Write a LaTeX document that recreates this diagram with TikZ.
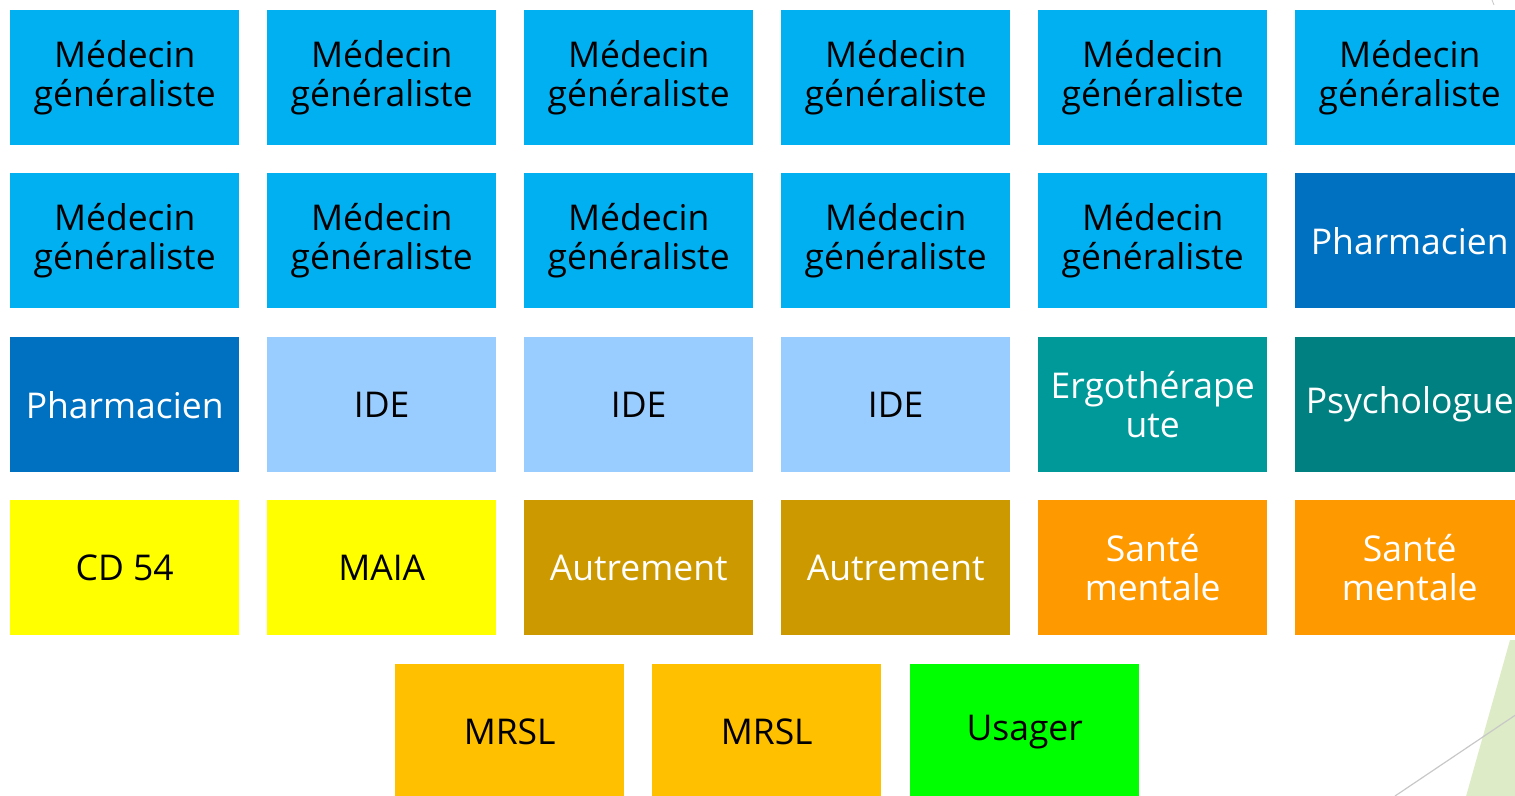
\documentclass[tikz,border=0pt]{standalone}
\usepackage{fontspec}
\setmainfont{Open Sans}
\begin{document}
\begin{tikzpicture}[x=1pt,y=-1pt,
  cell/.style={anchor=north west,minimum width=229pt,minimum height=135pt,inner sep=0pt,
    align=center,font=\fontsize{35.5}{39}\selectfont},
  mg/.style={cell,fill=mgblue,text=black},
  ph/.style={cell,fill=phblue,text=white},
  ide/.style={cell,fill=idblue,text=black},
  ergo/.style={cell,fill=ergoteal,text=white},
  psy/.style={cell,fill=psyteal,text=white},
  yel/.style={cell,fill=pureyellow,text=black},
  aut/.style={cell,fill=autgold,text=white},
  sm/.style={cell,fill=smorange,text=white},
  mrsl/.style={cell,fill=mrslgold,text=black},
  usa/.style={cell,fill=usgreen,text=black}]
\definecolor{mgblue}{HTML}{00B0F0}
\definecolor{phblue}{HTML}{0070C0}
\definecolor{idblue}{HTML}{99CCFF}
\definecolor{ergoteal}{HTML}{009999}
\definecolor{psyteal}{HTML}{008080}
\definecolor{pureyellow}{HTML}{FFFF00}
\definecolor{autgold}{HTML}{CC9900}
\definecolor{smorange}{HTML}{FF9900}
\definecolor{mrslgold}{HTML}{FFC000}
\definecolor{usgreen}{HTML}{00FF00}
\definecolor{deco}{HTML}{DDEBC7}
\definecolor{decoline}{HTML}{C8C8C8}
\useasboundingbox (0,0) rectangle (1515,795);
\clip (0,0) rectangle (1515,795);
% decoration
\fill[deco] (1510,640) -- (1520,640) -- (1520,800) -- (1465,800) -- cycle;
\draw[decoline,line width=1.2pt] (1395,796) -- (1517,714);
\draw[decoline,line width=0.8pt] (1492,0) -- (1494,5);
% row 1
\node[mg] (r1c1) at (10,10) {Médecin\\généraliste};
\node[mg] (r1c2) at (267,10) {Médecin\\généraliste};
\node[mg] (r1c3) at (524,10) {Médecin\\généraliste};
\node[mg] (r1c4) at (781,10) {Médecin\\généraliste};
\node[mg] (r1c5) at (1038,10) {Médecin\\généraliste};
\node[mg] (r1c6) at (1295,10) {Médecin\\généraliste};
% row 2
\node[mg] (r2c1) at (10,173) {Médecin\\généraliste};
\node[mg] (r2c2) at (267,173) {Médecin\\généraliste};
\node[mg] (r2c3) at (524,173) {Médecin\\généraliste};
\node[mg] (r2c4) at (781,173) {Médecin\\généraliste};
\node[mg] (r2c5) at (1038,173) {Médecin\\généraliste};
\node[ph] (r2c6) at (1295,173) {Pharmacien};
% row 3
\node[ph] (r3c1) at (10,337) {Pharmacien};
\node[ide] (r3c2) at (267,337) {IDE};
\node[ide] (r3c3) at (524,337) {IDE};
\node[ide] (r3c4) at (781,337) {IDE};
\node[ergo] (r3c5) at (1038,337) {Ergothérape\\ute};
\node[psy] (r3c6) at (1295,337) {Psychologue};
% row 4
\node[yel] (r4c1) at (10,500) {CD 54};
\node[yel] (r4c2) at (267,500) {MAIA};
\node[aut] (r4c3) at (524,500) {Autrement};
\node[aut] (r4c4) at (781,500) {Autrement};
\node[sm] (r4c5) at (1038,500) {Santé\\mentale};
\node[sm] (r4c6) at (1295,500) {Santé\\mentale};
% row 5
\node[mrsl] (r5c1) at (395,664) {MRSL};
\node[mrsl] (r5c2) at (652,664) {MRSL};
\node[usa] (r5c3) at (910,664) {Usager};
\end{tikzpicture}
\end{document}
